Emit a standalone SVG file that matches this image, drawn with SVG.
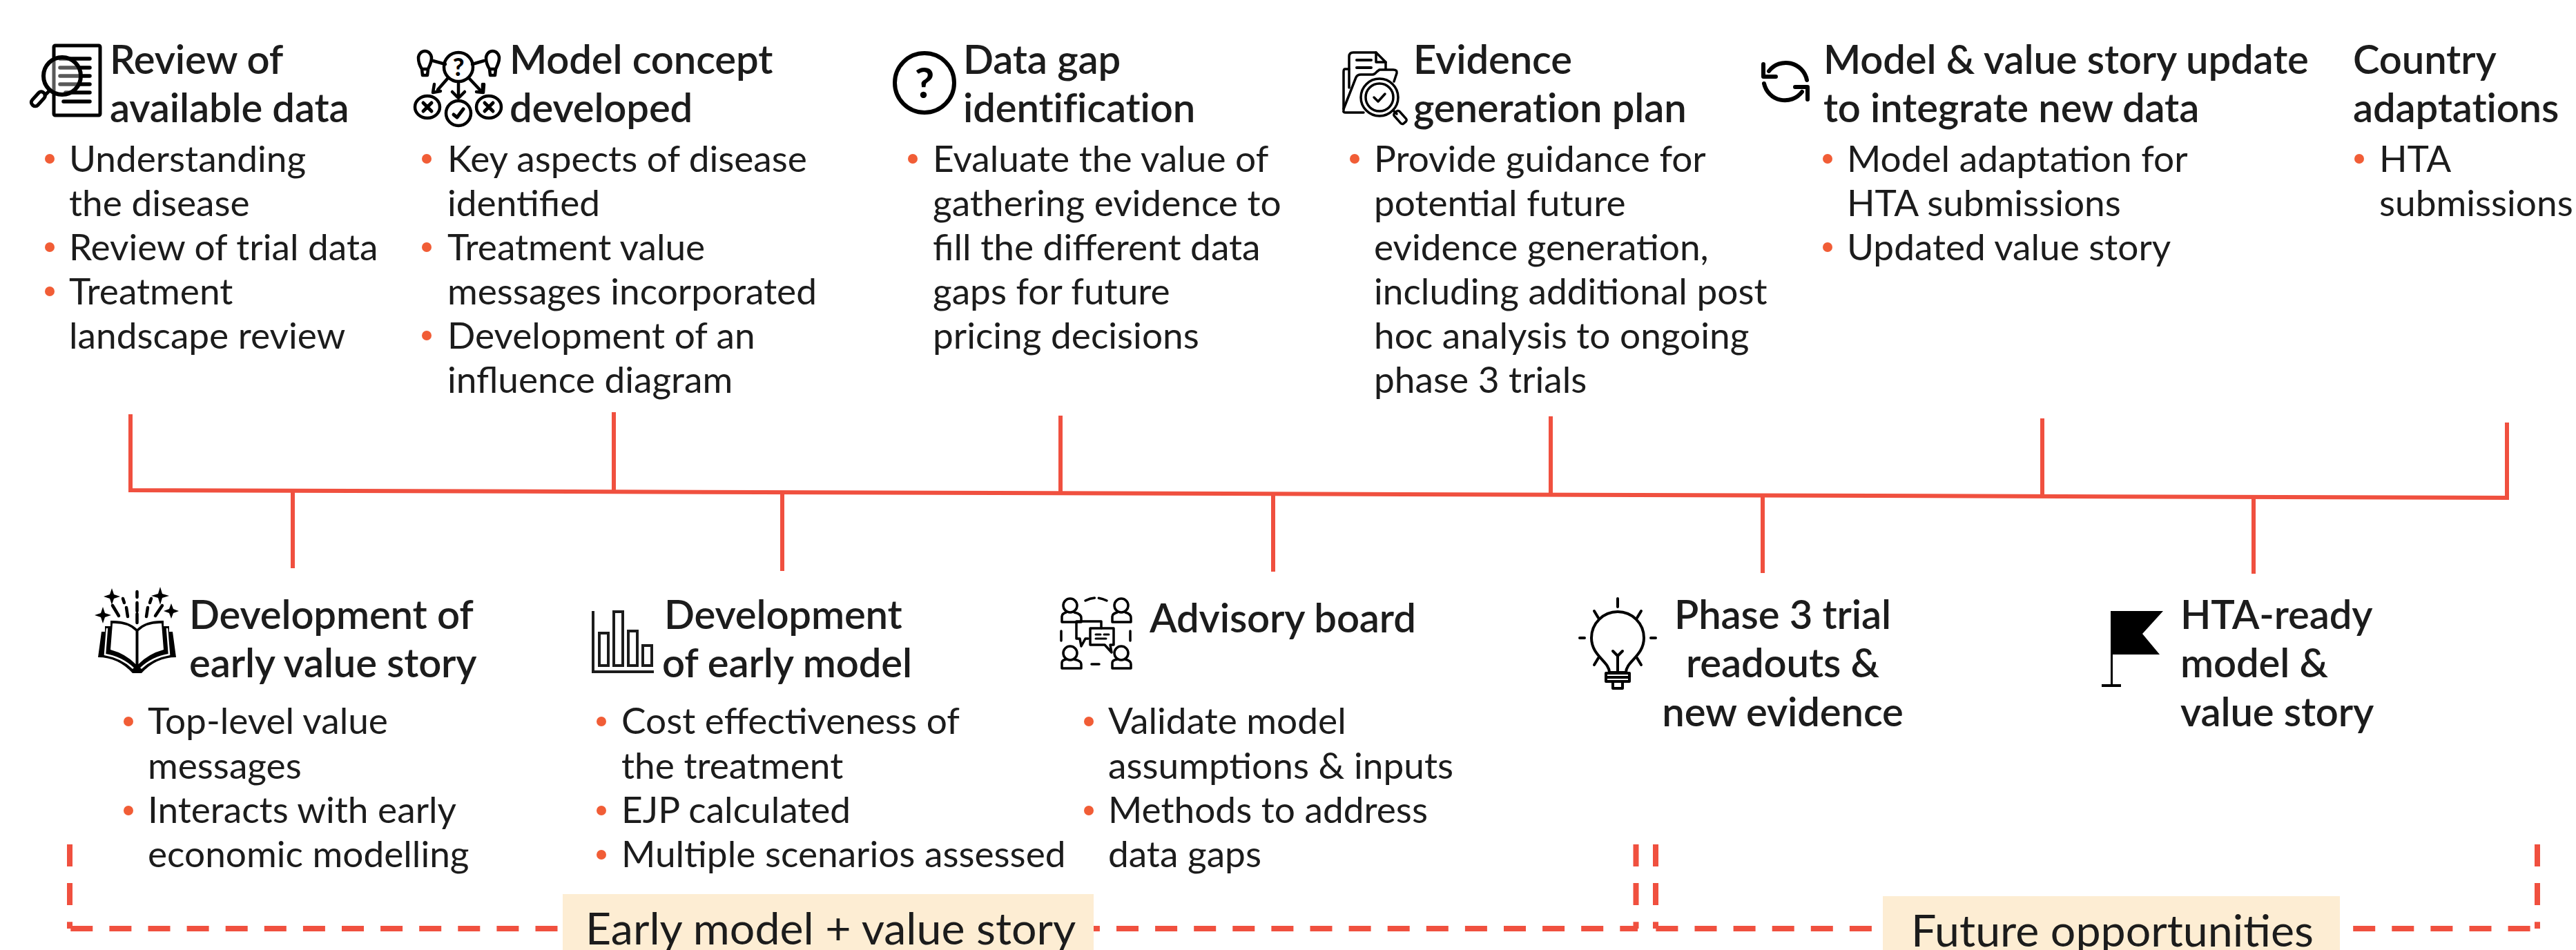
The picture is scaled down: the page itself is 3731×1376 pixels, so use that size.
<svg xmlns="http://www.w3.org/2000/svg" width="3731" height="1376" viewBox="0 0 3731 1376">
<style>
text{font-family:Lato,"Liberation Sans",sans-serif;fill:#1c1c1c}
.h{font-size:58px;font-weight:600;letter-spacing:-.15px}
.c{text-anchor:middle}
.b{font-size:53.200px;font-weight:400}
.l{font-size:64.500px;font-weight:400}
.dot{fill:#f15d36}
.i{fill:none;stroke:#000;stroke-linecap:round;stroke-linejoin:round}
.f{fill:#000;stroke:none}
.s{fill:none;stroke:#f0503f;stroke-width:6}
.d{fill:none;stroke:#f0503f;stroke-width:8;stroke-dasharray:32 24.1}
.r{fill:#fdedd3}
</style>
<rect width="3731" height="1376" fill="#fff"/>
<g id="connectors">
<path class="s" d="M189 600V710L3631 721V612"/>
<path class="s" d="M889 597V713M1536 602V715M2246 603V717M2958 606V720M424 712V823M1133 714V827M1844 716V828M2553 718V830M3264 720V831"/>
<path class="d" d="M101 1223V1345"/>
<path class="d" d="M102.300 1345H2372"/>
<path class="d" d="M2369.500 1223V1345"/>
<path class="d" d="M2398 1223V1345"/>
<path class="d" d="M2398.400 1345H3668"/>
<path class="d" d="M3675 1223V1345"/>
</g>
<g id="node-review">
<g class="i" stroke-width="5"><rect x="78" y="66" width="67" height="101" rx="2"/><path d="M87 85H130M87 98H130M87 110H130M87 122H130M95 134H130M92 147H130" stroke-width="5.500"/><circle cx="90" cy="110" r="27" fill="#fff" fill-opacity=".35" stroke-width="6"/><path d="M72 131L65 138"/><rect x="-5" y="-12" width="11" height="24" rx="5" transform="translate(55 143) rotate(42)"/></g>
<text class="h" x="159" y="107">Review of</text><text class="h" x="159" y="177">available data</text>
<circle class="dot" cx="72" cy="230" r="7"/><text class="b" x="100" y="249">Understanding</text><text class="b" x="100" y="313">the disease</text>
<circle class="dot" cx="72" cy="358" r="7"/><text class="b" x="100" y="377">Review of trial data</text>
<circle class="dot" cx="72" cy="422" r="7"/><text class="b" x="100" y="441">Treatment</text><text class="b" x="100" y="505">landscape review</text>
</g>
<g id="node-concept">
<g class="i" stroke-width="4.500"><circle cx="664" cy="97" r="21"/><path d="M627 88L645 93M701 88L684 93M648 114L634 130M664 120V140M680 114L695 130"/><path d="M629 122L627 134L638 132M655 133L664 142L673 133M699 132L699 122M690 133L700 134L701 122"/><path d="M611 100C606 92 606 88 606 84A9.500 10 0 0 1 625 84C625 88 624 92 620 100ZM611 100L612 109H619L620 100"/><path d="M709 100C704 92 704 88 704 84A9.500 10 0 0 1 723 84C723 88 722 92 718 100ZM709 100L710 109H717L718 100"/><ellipse cx="619" cy="155" rx="18" ry="16"/><circle cx="664" cy="164" r="18"/><ellipse cx="708" cy="155" rx="18" ry="16"/><path d="M613 149L625 161M625 149L613 161M702 149L714 161M714 149L702 161M657 166L662 170L671 158" stroke-width="5"/></g>
<text x="664" y="110" font-size="36" font-weight="900" text-anchor="middle" style="fill:#000">?</text>
<text class="h" x="738" y="107">Model concept</text><text class="h" x="738" y="177">developed</text>
<circle class="dot" cx="618" cy="230" r="7"/><text class="b" x="648" y="249">Key aspects of disease</text><text class="b" x="648" y="313">identified</text>
<circle class="dot" cx="618" cy="358" r="7"/><text class="b" x="648" y="377">Treatment value</text><text class="b" x="648" y="441">messages incorporated</text>
<circle class="dot" cx="618" cy="486" r="7"/><text class="b" x="648" y="505">Development of an</text><text class="b" x="648" y="569">influence diagram</text>
</g>
<g id="node-gap">
<circle class="i" cx="1339" cy="120" r="43" stroke-width="6"/>
<text x="1339" y="142" font-size="62" font-weight="700" text-anchor="middle" style="fill:#000">?</text>
<text class="h" x="1395" y="107">Data gap</text><text class="h" x="1395" y="177">identification</text>
<circle class="dot" cx="1322" cy="230" r="7"/><text class="b" x="1351" y="249">Evaluate the value of</text><text class="b" x="1351" y="313">gathering evidence to</text><text class="b" x="1351" y="377">fill the different data</text><text class="b" x="1351" y="441">gaps for future</text><text class="b" x="1351" y="505">pricing decisions</text>
</g>
<g id="node-plan">
<g class="i" stroke-width="3.500"><path d="M1954 127V82Q1954 76 1960 76H1993L2007 90V100"/><path d="M1993 76V90H2007"/><path d="M1965 87H1986M1965 98H1986" stroke-width="4"/><path d="M1954 100H1948Q1946 100 1946 104V158M1946 160Q1945 163 1949 163H1975"/><path d="M1946 158L1964 112Q1966 108 1971 108H1988Q1991 108 1994 104L1998 101H2018Q2024 101 2023 106L2019 118"/><circle cx="1998" cy="141" r="27"/><circle cx="1998" cy="141" r="20"/><path d="M1990 141L1996 147L2006 136"/><path d="M2018 160L2023 165"/><rect x="-5" y="-10" width="10" height="20" rx="3" transform="translate(2028 170) rotate(-42)"/></g>
<text class="h" x="2047" y="107">Evidence</text><text class="h" x="2047" y="177">generation plan</text>
<circle class="dot" cx="1962" cy="230" r="7"/><text class="b" x="1990" y="249">Provide guidance for</text><text class="b" x="1990" y="313">potential future</text><text class="b" x="1990" y="377">evidence generation,</text><text class="b" x="1990" y="441">including additional post</text><text class="b" x="1990" y="505">hoc analysis to ongoing</text><text class="b" x="1990" y="569">phase 3 trials</text>
</g>
<g id="node-update">
<g class="i" stroke-width="6"><path d="M2562 103A31 31 0 0 1 2617 116"/><path d="M2554 93V111H2572"/><path d="M2610 133A31 31 0 0 1 2555 121"/><path d="M2618 144V126H2600"/></g>
<text class="h" x="2641" y="107">Model &amp; value story update</text><text class="h" x="2641" y="177">to integrate new data</text>
<circle class="dot" cx="2647" cy="230" r="7"/><text class="b" x="2675" y="249">Model adaptation for</text><text class="b" x="2675" y="313">HTA submissions</text>
<circle class="dot" cx="2647" cy="358" r="7"/><text class="b" x="2675" y="377">Updated value story</text>
</g>
<g id="node-country">
<text class="h" x="3408" y="107">Country</text><text class="h" x="3408" y="177">adaptations</text>
<circle class="dot" cx="3417" cy="230" r="7"/><text class="b" x="3446" y="249">HTA</text><text class="b" x="3446" y="313">submissions</text>
</g>
<g id="node-story">
<path class="f" d="M147 915H152V907H160V899Q185 898 198.500 911Q212 898 237 899V907H245V915H250L255 952Q226 952 205 975H192Q171 952 142 952Z"/>
<path d="M163 903Q185 902 196.500 914V962Q182 947 160 941ZM234 903Q212 902 200.500 914V962Q215 947 237 941Z" fill="#fff"/>
<path d="M155 910L152 948Q176 952 193 968M242 910L245 948Q221 952 204 968" fill="none" stroke="#fff" stroke-width="2.500"/>
<path class="i" d="M198.500 857V865M198.500 873V885M198.500 889V902M178 867L180 873M183 880L185 893M163 877L172 892M219 867L217 873M214 880L212 893M235 877L225 892" stroke-width="4.500"/>
<path class="f" d="M162 852L165 861L174 864L165 867L162 876L159 867L150 864L159 861ZM149 879L152 888L161 891L152 894L149 903L146 894L137 891L146 888ZM232 850L235 860L245 863L235 866L232 876L229 866L219 863L229 860ZM248 874L251 882L259 885L251 888L248 896L245 888L237 885L245 882Z"/>
<text class="h" x="274" y="911">Development of</text><text class="h" x="274" y="981">early value story</text>
<circle class="dot" cx="186" cy="1045" r="7"/><text class="b" x="214" y="1063">Top-level value</text><text class="b" x="214" y="1128">messages</text>
<circle class="dot" cx="186" cy="1174" r="7"/><text class="b" x="214" y="1192">Interacts with early</text><text class="b" x="214" y="1256">economic modelling</text>
</g>
<g id="node-model">
<path fill="none" stroke="#1c1c1c" stroke-width="4" d="M859 885V973H947"/>
<path fill="none" stroke="#1c1c1c" stroke-width="4" d="M868 917H881V964H868ZM889 886H902V964H889ZM910 914H923V964H910ZM931 935H944V964H931Z"/>
<text class="h" x="962" y="911">Development</text><text class="h" x="959" y="981">of early model</text>
<circle class="dot" cx="871" cy="1045" r="7"/><text class="b" x="900" y="1063">Cost effectiveness of</text><text class="b" x="900" y="1128">the treatment</text>
<circle class="dot" cx="871" cy="1174" r="7"/><text class="b" x="900" y="1192">EJP calculated</text>
<circle class="dot" cx="871" cy="1238" r="7"/><text class="b" x="900" y="1256">Multiple scenarios assessed</text>
</g>
<g id="node-advisory">
<g class="i" stroke-width="3.500"><circle cx="1550" cy="877" r="10"/><path d="M1538 901V893Q1538 889 1544 887M1556 887Q1566 889 1566 895V901H1538"/><circle cx="1624" cy="877" r="10"/><path d="M1611 901V893Q1611 889 1618 887M1630 887Q1638 889 1638 895V901H1611"/><circle cx="1550" cy="946" r="10"/><path d="M1538 968V960Q1538 956 1544 955M1556 955Q1566 957 1566 962V968H1538"/><circle cx="1624" cy="946" r="10"/><path d="M1611 968V960Q1611 956 1618 955M1630 955Q1638 957 1638 962V968H1611"/>
<path d="M1572 870Q1587 862 1603 870M1537 914V934M1637 914V934M1581 962H1592" stroke-dasharray="14 6"/>
<path d="M1559 925V900H1595V910M1576 925H1572L1566 936L1564 925H1559"/><path d="M1579 910H1613V934H1608L1610 945L1600 934H1579Z"/><path d="M1587 919H1594M1599 919H1606M1587 925H1602" stroke-width="3"/></g>
<text class="h" x="1665" y="916">Advisory board</text>
<circle class="dot" cx="1577" cy="1045" r="7"/><text class="b" x="1605" y="1063">Validate model</text><text class="b" x="1605" y="1128">assumptions &amp; inputs</text>
<circle class="dot" cx="1577" cy="1174" r="7"/><text class="b" x="1605" y="1192">Methods to address</text><text class="b" x="1605" y="1256">data gaps</text>
</g>
<g id="node-readouts">
<g class="i" stroke-width="4"><path d="M2331 974C2331 958 2305 950 2305 924A38 38 0 0 1 2381 924C2381 950 2355 958 2355 974ZM2343 974V950L2336 943M2343 950L2350 943M2326 975H2360V987H2326ZM2327 981H2359M2336 988V997H2350V988M2343 867V879M2309 885L2315 895M2377 885L2371 895M2288 924H2295M2391 924H2398M2309 963L2315 953M2377 963L2371 953"/></g>
<text class="h c" x="2582" y="911">Phase 3 trial</text><text class="h c" x="2582" y="981">readouts &amp;</text><text class="h c" x="2582" y="1052">new evidence</text>
</g>
<g id="node-hta">
<path class="f" d="M3057 885H3133L3103 918L3128 948H3060V991H3072V995H3044V991H3057Z" />
<text class="h" x="3158" y="911">HTA-ready</text><text class="h" x="3158" y="981">model &amp;</text><text class="h" x="3158" y="1052">value story</text>
</g>
<g id="label-early"><rect class="r" x="815" y="1295" width="769" height="81"/><text class="l" x="848" y="1368">Early model + value story</text></g>
<g id="label-future"><rect class="r" x="2727" y="1298" width="662" height="78"/><text class="l" x="2768" y="1371">Future opportunities</text></g>
</svg>
